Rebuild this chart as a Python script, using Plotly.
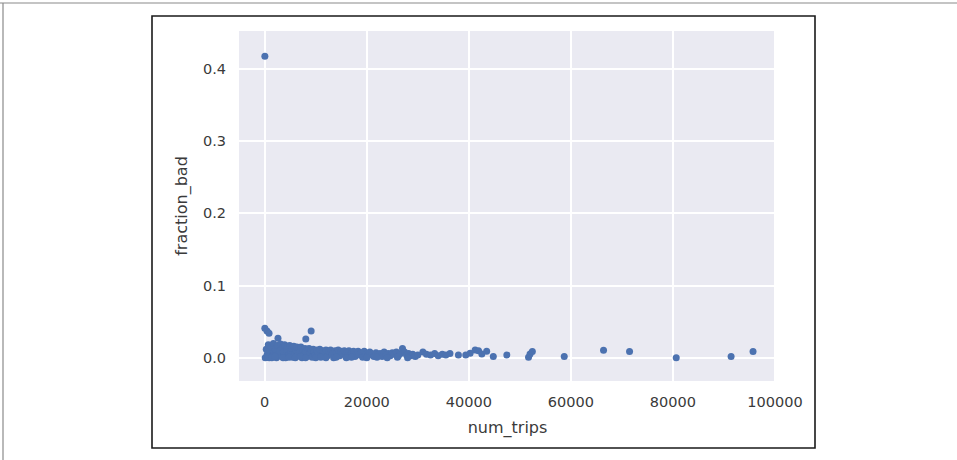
import plotly.graph_objects as go

# ---- data ----
num_trips = [
    30, 20, 450, 850, 2600, 8050, 9100,
    100, 300, 500, 700, 900, 1100, 1300, 1500, 1700, 1900, 2100, 2300, 2500, 2700, 2900,
    3100, 3300, 3500, 3700, 3900, 4100, 4300, 4500, 4700, 4900, 5100, 5300, 5500, 5700,
    5900, 6100, 6300, 6500, 6700, 6900, 7100, 7300, 7500, 7700, 7900, 8100, 8300, 8500,
    8700, 8900, 9100, 9300, 9500, 9700, 9900, 10200, 10500, 10800, 11100, 11400, 11700,
    12000, 12300, 12600, 12900, 13200, 13500, 13800, 14100, 14400, 14700, 15000, 15300,
    15600, 15900, 16200, 16500, 16800, 17100, 17400, 17700, 18000, 18300, 18600, 18900,
    19200, 19500, 19800, 20200, 20600, 21000, 21400, 21800, 22200, 22600, 23000, 23400,
    23800, 24200, 24600, 25000, 25400, 25800, 26200, 26600, 27000, 27400, 27800, 28200,
    28600, 29000, 29500, 30000, 31000, 31700, 32500, 33300, 34000, 34800, 35500, 36300,
    600, 1400, 2000, 3600, 4800, 6000, 7000, 8000, 10000, 11000, 12000, 14000, 16000,
    17000, 20000, 22000, 24000, 26000, 28000,
    37960, 39400, 40250, 41240, 41900, 42550, 43500, 44800, 47450, 51700, 52000, 52450,
    58700, 66400, 71500, 80650, 91400, 95700,
]
fraction_bad = [
    0.417, 0.041, 0.037, 0.034, 0.027, 0.026, 0.037,
    0.0, 0.012, 0.005, 0.018, 0.0, 0.009, 0.015, 0.003, 0.020, 0.007, 0.012, 0.0, 0.017, 0.005, 0.010,
    0.019, 0.002, 0.014, 0.008, 0.018, 0.0, 0.011, 0.016, 0.004, 0.017, 0.008, 0.013, 0.001, 0.016,
    0.006, 0.011, 0.015, 0.003, 0.014, 0.008, 0.015, 0.0, 0.011, 0.005, 0.013, 0.009, 0.002, 0.012,
    0.013, 0.006, 0.011, 0.001, 0.012, 0.008, 0.004, 0.011, 0.006, 0.012, 0.002, 0.010, 0.007,
    0.011, 0.003, 0.009, 0.011, 0.005, 0.0, 0.010, 0.007, 0.011, 0.003, 0.009, 0.006,
    0.010, 0.002, 0.008, 0.010, 0.004, 0.007, 0.009, 0.002, 0.006, 0.009, 0.004, 0.007,
    0.001, 0.009, 0.005, 0.003, 0.008, 0.005, 0.002, 0.007, 0.004, 0.006, 0.002, 0.008,
    0.004, 0.006, 0.003, 0.007, 0.005, 0.008, 0.003, 0.006, 0.013, 0.008, 0.004, 0.006,
    0.003, 0.005, 0.002, 0.004, 0.008, 0.005, 0.004, 0.006, 0.003, 0.005, 0.004, 0.006,
    0.001, 0.0, 0.002, 0.0, 0.001, 0.0, 0.002, 0.0, 0.0, 0.001, 0.0, 0.001, 0.0,
    0.001, 0.0, 0.001, 0.0, 0.001, 0.0,
    0.004, 0.004, 0.0064, 0.011, 0.010, 0.0055, 0.009, 0.0018, 0.004, 0.001, 0.0055, 0.0087,
    0.0018, 0.0105, 0.0087, 0.0, 0.0018, 0.0087,
]
x_ticks = [0, 20000, 40000, 60000, 80000, 100000]
y_ticks = [0.0, 0.1, 0.2, 0.3, 0.4]

FONT = "DejaVu Sans"
TXT = "#3a3a3a"

fig = go.Figure(
    go.Scatter(
        x=num_trips, y=fraction_bad, mode="markers",
        marker=dict(color="#4C72B0", size=7, line=dict(width=0)),
        hoverinfo="x+y",
    )
)

# pixel -> paper helpers for the decorative frames (plot area 239..776 x 31..381)
L, R, T, B = 239, 776, 31, 381
W, H = R - L, B - T
px = lambda v: (v - L) / W
py = lambda v: (B - v) / H

shapes = [
    # inner figure frame
    dict(type="rect", xref="paper", yref="paper",
         x0=px(152), x1=px(815), y0=py(448), y1=py(16),
         line=dict(color="#1a1a1a", width=1.6), fillcolor="rgba(0,0,0,0)", layer="below"),
    # outer page lines (top and left)
    dict(type="line", xref="paper", yref="paper",
         x0=px(0), x1=px(957), y0=py(3), y1=py(3),
         line=dict(color="#8a8a8a", width=1.2)),
    dict(type="line", xref="paper", yref="paper",
         x0=px(3), x1=px(3), y0=py(3), y1=py(460),
         line=dict(color="#8a8a8a", width=1.2)),
]

fig.update_layout(
    width=957, height=460,
    margin=dict(l=L, r=957 - R, t=T, b=460 - B, pad=0),
    paper_bgcolor="white", plot_bgcolor="#EAEAF2",
    showlegend=False,
    font=dict(family=FONT, color=TXT, size=14),
    shapes=shapes,
    xaxis=dict(
        range=[-5040, 100200], tickvals=x_ticks, tickformat="d",
        showgrid=True, gridcolor="white", gridwidth=1.5,
        zeroline=False, showline=False,
        ticks="outside", ticklen=8, tickcolor="rgba(0,0,0,0)",
        tickfont=dict(family=FONT, size=14.5, color=TXT),
        title=dict(text="num_trips", font=dict(family=FONT, size=16, color=TXT), standoff=12),
    ),
    yaxis=dict(
        range=[-0.032, 0.452], tickvals=y_ticks, tickformat=".1f",
        showgrid=True, gridcolor="white", gridwidth=1.5,
        zeroline=False, showline=False,
        ticks="outside", ticklen=9, tickcolor="rgba(0,0,0,0)",
        tickfont=dict(family=FONT, size=14.5, color=TXT),
        title=dict(text="fraction_bad", font=dict(family=FONT, size=16, color=TXT), standoff=11),
    ),
)

fig.write_html(
    "out.html",
    config={"displayModeBar": False},
    post_script="document.body.style.margin='0px';document.body.style.overflow='hidden';",
)
